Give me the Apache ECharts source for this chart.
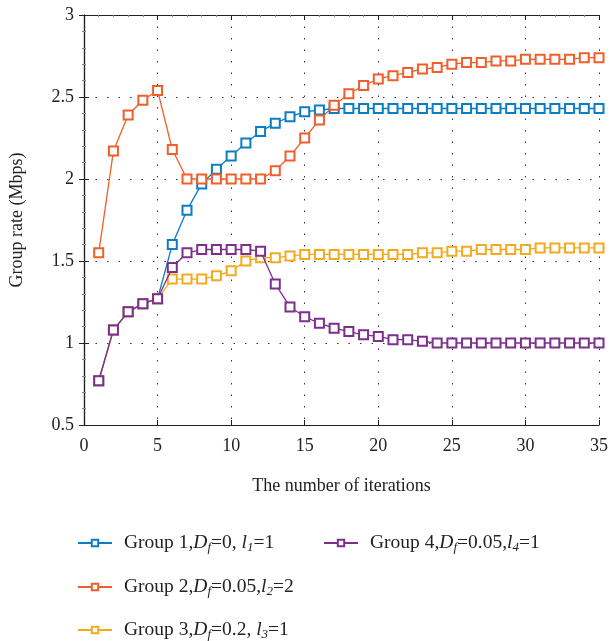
<!DOCTYPE html>
<html>
<head>
<meta charset="utf-8">
<script src="https://cdn.jsdelivr.net/npm/echarts@6/dist/echarts.min.js"></script>
<style>
  html, body { margin: 0; padding: 0; background: #fff; }
  #main { width: 611px; height: 641px; }
</style>
</head>
<body>
<div id="main"></div>
<script>
var iterations = [];
for (var k = 1; k <= 35; k++) iterations.push(k);

var group1 = [0.77, 1.08, 1.19, 1.24, 1.27, 1.60, 1.81, 1.97, 2.06, 2.14, 2.22, 2.29, 2.34, 2.38, 2.41, 2.42, 2.43,
  2.43, 2.43, 2.43, 2.43, 2.43, 2.43, 2.43, 2.43, 2.43, 2.43, 2.43, 2.43, 2.43, 2.43, 2.43, 2.43, 2.43, 2.43];
var group2 = [1.55, 2.17, 2.39, 2.48, 2.54, 2.18, 2.00, 2.00, 2.00, 2.00, 2.00, 2.00, 2.05, 2.14, 2.25, 2.36, 2.45,
  2.52, 2.57, 2.61, 2.63, 2.65, 2.67, 2.68, 2.70, 2.71, 2.71, 2.72, 2.72, 2.73, 2.73, 2.73, 2.73, 2.74, 2.74];
var group3 = [0.77, 1.08, 1.19, 1.24, 1.27, 1.39, 1.39, 1.39, 1.41, 1.44, 1.50, 1.52, 1.52, 1.53, 1.54, 1.54, 1.54,
  1.54, 1.54, 1.54, 1.54, 1.54, 1.55, 1.55, 1.56, 1.56, 1.57, 1.57, 1.57, 1.57, 1.58, 1.58, 1.58, 1.58, 1.58];
var group4 = [0.77, 1.08, 1.19, 1.24, 1.27, 1.46, 1.55, 1.57, 1.57, 1.57, 1.57, 1.56, 1.36, 1.22, 1.16, 1.12, 1.09,
  1.07, 1.05, 1.04, 1.02, 1.02, 1.01, 1.00, 1.00, 1.00, 1.00, 1.00, 1.00, 1.00, 1.00, 1.00, 1.00, 1.00, 1.00];

var seriesNames = ['Group 1', 'Group 2', 'Group 3', 'Group 4'];
var seriesData = [group1, group2, group3, group4];
var colors = ['#0B7DC6', '#F25E2A', '#F4AA1E', '#7E2F8E'];

// legend labels: [prefix, D value, l subscript, l value]
var legendParts = {
  'Group 1': ['Group 1,', '=0, ', '1', '=1'],
  'Group 2': ['Group 2,', '=0.05,', '2', '=2'],
  'Group 3': ['Group 3,', '=0.2, ', '3', '=1'],
  'Group 4': ['Group 4,', '=0.05,', '4', '=1']
};

var font = '"Liberation Serif", "DejaVu Serif", serif';

function legendText(name) {
  var p = legendParts[name];
  return '{g|}{n|' + p[0] + '}{i|D}{s|f}{n|' + p[1] + '}{i|l}{s|' + p[2] + '}{n|' + p[3] + '}';
}

var legendRich = {
  g: { width: 7 },
  n: { fontFamily: font, fontSize: 19.5, color: '#222' },
  i: { fontFamily: font, fontSize: 19.5, fontStyle: 'italic', color: '#222' },
  s: { fontFamily: font, fontSize: 13, fontStyle: 'italic', color: '#222', padding: [10, 0, 0, 0] }
};

function pairs(arr) {
  return arr.map(function (v, i) { return [iterations[i], v]; });
}

var series = seriesNames.map(function (name, i) {
  return {
    name: name,
    type: 'line',
    data: pairs(seriesData[i]),
    symbol: 'emptyRect',
    symbolSize: 9,
    color: colors[i],
    lineStyle: { width: 1.3 },
    itemStyle: { borderWidth: 1.5 },
    z: 2 + (i === 3 ? 1 : 0)
  };
});

// one legend per entry, placed like the original two-column layout
var legendSpots = [[77, 541], [77, 585], [77, 628], [323, 541]];
var legends = seriesNames.map(function (name, i) {
  return {
    data: [name],
    left: legendSpots[i][0],
    top: legendSpots[i][1] - 8,
    padding: 0,
    itemWidth: 34,
    itemHeight: 8,
    formatter: legendText,
    textStyle: { rich: legendRich }
  };
});

var option = {
  backgroundColor: '#fff',
  animation: false,
  textStyle: { fontFamily: font },
  grid: { left: 79, right: 10, top: 15, bottom: 216 },
  legend: legends,
  xAxis: [{
    type: 'value',
    min: 0,
    max: 35,
    interval: 5,
    name: 'The number of iterations',
    nameLocation: 'middle',
    nameGap: 52,
    nameTextStyle: { fontFamily: font, fontSize: 18, color: '#222' },
    axisLine: { lineStyle: { color: '#222', width: 1.2 } },
    axisTick: { inside: true, length: 5, lineStyle: { color: '#222' } },
    axisLabel: { fontFamily: font, fontSize: 18, color: '#222', margin: 12 },
    splitLine: { show: true, lineStyle: { color: '#333', type: [1.5, 10], width: 1 } }
  }, {
    type: 'value',
    position: 'top',
    min: 0,
    max: 35,
    interval: 5,
    axisLine: { show: true, lineStyle: { color: '#222', width: 1.2 } },
    axisTick: { inside: true, length: 5, lineStyle: { color: '#222' } },
    minorTick: { show: true, splitNumber: 5, length: 2, lineStyle: { color: '#888' } },
    axisLabel: { show: false },
    splitLine: { show: false }
  }],
  yAxis: [{
    type: 'value',
    min: 0.5,
    max: 3,
    interval: 0.5,
    name: 'Group rate (Mbps)',
    nameLocation: 'middle',
    nameGap: 58,
    nameTextStyle: { fontFamily: font, fontSize: 18, color: '#222' },
    axisLine: { show: true, lineStyle: { color: '#222', width: 1.2 } },
    axisTick: { inside: true, length: 5, lineStyle: { color: '#222' } },
    minorTick: { show: true, splitNumber: 5, length: 2, lineStyle: { color: '#888' } },
    axisLabel: { fontFamily: font, fontSize: 18, color: '#222', margin: 10 },
    splitLine: { show: true, lineStyle: { color: '#333', type: [1.5, 10], width: 1 } }
  }, {
    type: 'value',
    position: 'right',
    min: 0.5,
    max: 3,
    interval: 0.5,
    axisLine: { show: true, lineStyle: { color: '#222', width: 1.2 } },
    axisTick: { inside: true, length: 5, lineStyle: { color: '#222' } },
    minorTick: { show: true, splitNumber: 5, length: 2, lineStyle: { color: '#888' } },
    axisLabel: { show: false },
    splitLine: { show: false }
  }],
  series: series
};

echarts.init(document.getElementById('main')).setOption(option);
</script>
</body>
</html>
